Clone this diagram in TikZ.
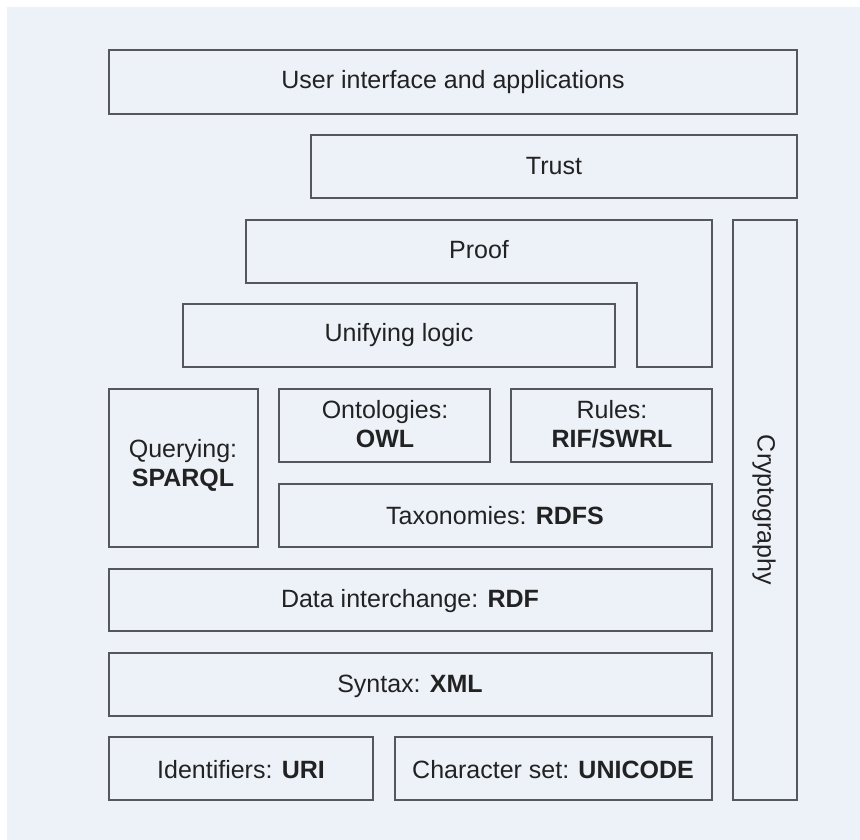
\documentclass[tikz,border=0pt]{standalone}
\usepackage{fontspec}
\setmainfont{Liberation Sans}
\definecolor{panel}{HTML}{EDF2F9}
\definecolor{edge}{HTML}{55575B}
\definecolor{ink}{HTML}{222222}
\begin{document}
\begin{tikzpicture}[x=1pt,y=-1pt,
  layer/.style={draw=edge,line width=1.4pt,fill=panel},
  lbl/.style={text=ink,font=\fontsize{25}{29}\selectfont,align=center,inner sep=0pt}]
\useasboundingbox (0,0) rectangle (860,840);
\fill[white] (0,0) rectangle (860,840);
\fill[panel] (7,7) rectangle (860,840);

% top layers
\draw[layer] (109,50) rectangle (797,114);
\node[lbl] (ui) at (453,82) {User interface and applications};
\draw[layer] (311,135) rectangle (797,198);
\node[lbl] (trust) at (554,166) {Trust};

% proof (L-shaped)
\draw[layer] (246,220) -- (712,220) -- (712,367) -- (637,367) -- (637,283) -- (246,283) -- cycle;
\node[lbl] (proof) at (479,250) {Proof};

% unifying logic
\draw[layer] (183,304) rectangle (615,367);
\node[lbl] (logic) at (399,335) {Unifying logic};

% cryptography column
\draw[layer] (733,220) rectangle (797,800);
\node[lbl,rotate=-90] (crypto) at (764,510) {Cryptography};

% querying, ontologies, rules, taxonomies
\draw[layer] (109,389) rectangle (258,547);
\node[lbl] (query) at (183,465) {Querying:\\\textbf{SPARQL}};
\draw[layer] (279,389) rectangle (490,462);
\node[lbl] (onto) at (385,424) {Ontologies:\\\textbf{OWL}};
\draw[layer] (511,389) rectangle (712,462);
\node[lbl] (rules) at (612,424) {Rules:\\\textbf{RIF/SWRL}};
\draw[layer] (279,484) rectangle (712,547);
\node[lbl] (tax) at (495,516) {Taxonomies: \textbf{RDFS}};

% data, syntax
\draw[layer] (109,569) rectangle (712,631);
\node[lbl] (rdf) at (410,601) {Data interchange: \textbf{RDF}};
\draw[layer] (109,653) rectangle (712,716);
\node[lbl] (xml) at (410,686) {Syntax: \textbf{XML}};

% identifiers, character set
\draw[layer] (109,737) rectangle (373,800);
\node[lbl] (uri) at (241,770) {Identifiers: \textbf{URI}};
\draw[layer] (395,737) rectangle (712,800);
\node[lbl] (uni) at (553,770) {Character set: \textbf{UNICODE}};
\end{tikzpicture}
\end{document}
